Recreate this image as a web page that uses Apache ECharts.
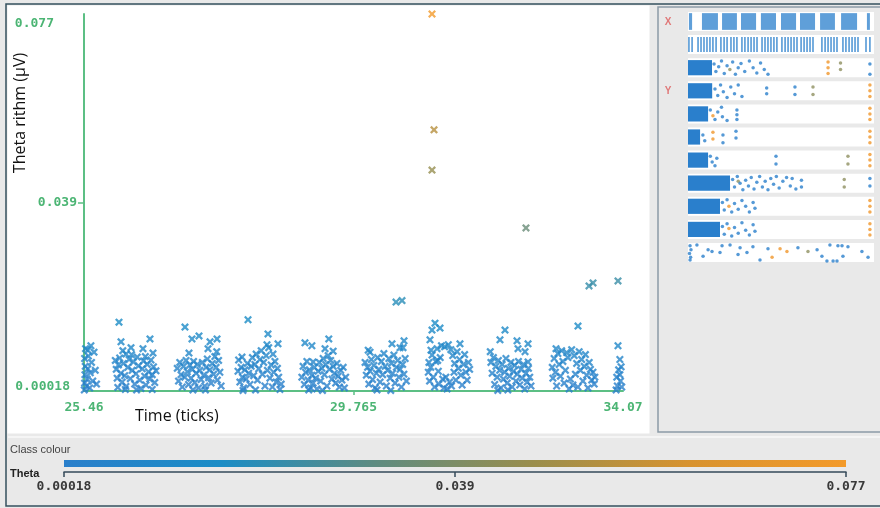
<!DOCTYPE html>
<html><head><meta charset="utf-8">
<script src="https://cdn.jsdelivr.net/npm/echarts@6/dist/echarts.min.js"></script>
<style>html,body{margin:0;padding:0;background:#e9e9e9}#c{width:880px;height:508px}</style>
</head><body><div id="c"></div>
<script>
// ---------- DATA ----------
var X_MIN = 25.46, X_MAX = 34.07;
var X_TICK_VALUES = [25.46, 29.765, 34.07];
var X_TICK_LABELS = ['25.46', '29.765', '34.07'];
var Y_MIN = 0.00018, Y_MAX = 0.077;
var Y_TICK_VALUES = [0.00018, 0.0386, 0.077];
var Y_TICK_LABELS = ['0.00018', '0.039', '0.077'];
var CLASS_TICK_VALUES = [0.00018, 0.0386, 0.077];
var CLASS_TICK_LABELS = ['0.00018', '0.039', '0.077'];
var COLOR_STOPS = ['#2a7fcb', '#1b8dc6', '#5f8c80', '#9a8e4c', '#d8932f', '#f39a2a'];

var CLUSTER_1 = [[25.465,0.0004],[25.47,0.0018],[25.475,0.0035],[25.48,0.0052],[25.47,0.0068],[25.485,0.0088],[25.50,0.0012],[25.51,0.0026],[25.52,0.0047],[25.53,0.0073],[25.55,0.0008],[25.56,0.0039],[25.58,0.0060],[25.60,0.0022],[25.62,0.0081],[25.64,0.0044],[25.66,0.0016],[25.52,0.0085],[25.57,0.0094]];
var CLUSTER_2 = [[26.019,0.0142],[26.051,0.0102],[26.514,0.0108],[26.402,0.0088],[26.562,0.0079],[26.211,0.0090],[26.131,0.0077],[25.96,0.0064],[25.975,0.0046],[25.99,0.0028],[26.01,0.0055],[26.03,0.0069],[26.05,0.0038],[26.07,0.0020],[26.09,0.0058],[26.11,0.0033],[26.13,0.0011],[26.16,0.0050],[26.18,0.0066],[26.20,0.0027],[26.23,0.0044],[26.25,0.0061],[26.27,0.0016],[26.29,0.0037],[26.31,0.0071],[26.33,0.0053],[26.35,0.0024],[26.37,0.0007],[26.39,0.0047],[26.41,0.0063],[26.43,0.0032],[26.45,0.0014],[26.47,0.0056],[26.49,0.0041],[26.51,0.0026],[26.53,0.0065],[26.55,0.0035],[26.57,0.0051],[26.59,0.0019],[26.61,0.0043],[26.08,0.0084],[26.22,0.0076],[26.30,0.0004],[26.12,0.0005],[26.55,0.0005],[26.44,0.0072],[26.00,0.0009]];
var CLUSTER_3 = [[27.073,0.0132],[27.185,0.0108],[27.297,0.0114],[27.473,0.0102],[27.585,0.0108],[27.441,0.0088],[27.137,0.0079],[26.95,0.0048],[26.97,0.0022],[26.99,0.0060],[27.01,0.0035],[27.03,0.0010],[27.05,0.0052],[27.07,0.0030],[27.09,0.0064],[27.11,0.0041],[27.13,0.0015],[27.15,0.0055],[27.17,0.0028],[27.19,0.0046],[27.21,0.0062],[27.23,0.0019],[27.25,0.0038],[27.27,0.0056],[27.29,0.0008],[27.31,0.0044],[27.33,0.0025],[27.35,0.0060],[27.37,0.0034],[27.39,0.0012],[27.41,0.0050],[27.43,0.0067],[27.45,0.0029],[27.47,0.0045],[27.49,0.0018],[27.51,0.0058],[27.53,0.0036],[27.55,0.0072],[27.57,0.0050],[27.59,0.0024],[27.61,0.0064],[27.63,0.0040],[27.65,0.0012],[27.20,0.0004],[27.40,0.0004],[27.58,0.0082]];
var CLUSTER_4 = [[28.080,0.0147],[28.399,0.0118],[28.559,0.0098],[28.383,0.0096],[27.984,0.0071],[28.479,0.0077],[27.92,0.0042],[27.93,0.0065],[27.95,0.0020],[27.97,0.0050],[27.99,0.0030],[28.01,0.0008],[28.03,0.0045],[28.05,0.0026],[28.07,0.0058],[28.09,0.0038],[28.11,0.0015],[28.13,0.0052],[28.15,0.0070],[28.17,0.0033],[28.19,0.0056],[28.21,0.0077],[28.23,0.0024],[28.25,0.0047],[28.27,0.0066],[28.29,0.0084],[28.31,0.0036],[28.33,0.0060],[28.35,0.0012],[28.37,0.0074],[28.39,0.0044],[28.41,0.0090],[28.43,0.0028],[28.45,0.0055],[28.47,0.0010],[28.49,0.0040],[28.51,0.0062],[28.53,0.0020],[28.55,0.0048],[28.57,0.0030],[28.59,0.0005],[28.61,0.0016],[28.20,0.0004],[28.00,0.0003]];
var CLUSTER_5 = [[28.99,0.0100],[29.10,0.0094],[29.37,0.0108],[29.31,0.0088],[29.44,0.0083],[29.12,0.0061],[28.94,0.0030],[28.96,0.0052],[28.98,0.0015],[29.00,0.0040],[29.02,0.0062],[29.04,0.0024],[29.06,0.0045],[29.08,0.0008],[29.10,0.0034],[29.12,0.0018],[29.14,0.0050],[29.16,0.0028],[29.18,0.0006],[29.20,0.0042],[29.22,0.0060],[29.24,0.0022],[29.26,0.0048],[29.28,0.0068],[29.30,0.0035],[29.32,0.0056],[29.34,0.0012],[29.36,0.0074],[29.38,0.0046],[29.40,0.0064],[29.42,0.0026],[29.44,0.0052],[29.46,0.0038],[29.48,0.0018],[29.50,0.0058],[29.52,0.0032],[29.54,0.0010],[29.56,0.0044],[29.58,0.0024],[29.60,0.0050],[29.62,0.0008],[29.64,0.0030],[29.27,0.0003],[29.05,0.0004]];
var CLUSTER_6 = [[30.444,0.0183],[30.54,0.0186],[30.38,0.0098],[30.572,0.0104],[30.029,0.0081],[30.508,0.0090],[30.556,0.0090],[29.95,0.0060],[29.97,0.0034],[29.99,0.0050],[30.01,0.0016],[30.03,0.0042],[30.05,0.0066],[30.07,0.0025],[30.09,0.0054],[30.11,0.0008],[30.13,0.0038],[30.15,0.0070],[30.17,0.0046],[30.19,0.0020],[30.21,0.0062],[30.23,0.0035],[30.25,0.0078],[30.27,0.0052],[30.29,0.0012],[30.31,0.0044],[30.33,0.0068],[30.35,0.0028],[30.37,0.0058],[30.39,0.0038],[30.41,0.0075],[30.43,0.0018],[30.45,0.0050],[30.47,0.0064],[30.49,0.0030],[30.51,0.0046],[30.53,0.0010],[30.55,0.0056],[30.57,0.0036],[30.59,0.0068],[30.61,0.0022],[30.14,0.0004],[30.36,0.0003],[30.00,0.0085]];
var CLUSTER_7 = [[31.019,0.0770],[31.051,0.0534],[31.019,0.0452],[31.067,0.0140],[31.147,0.0130],[31.019,0.0126],[30.987,0.0106],[31.003,0.0085],[31.466,0.0098],[30.96,0.0040],[30.97,0.0060],[30.98,0.0022],[31.00,0.0050],[31.02,0.0075],[31.04,0.0030],[31.06,0.0010],[31.08,0.0062],[31.10,0.0088],[31.12,0.0042],[31.13,0.0016],[31.15,0.0070],[31.17,0.0094],[31.19,0.0026],[31.21,0.0008],[31.22,0.0092],[31.24,0.0030],[31.26,0.0006],[31.28,0.0096],[31.30,0.0020],[31.32,0.0086],[31.33,0.0012],[31.35,0.0074],[31.37,0.0040],[31.38,0.0058],[31.40,0.0024],[31.42,0.0082],[31.44,0.0048],[31.46,0.0066],[31.48,0.0034],[31.50,0.0014],[31.52,0.0056],[31.54,0.0076],[31.56,0.0040],[31.58,0.0024],[31.60,0.0060],[31.62,0.0046],[31.11,0.0064]];
var CLUSTER_8 = [[32.52,0.0334],[32.185,0.0126],[32.105,0.0106],[32.377,0.0104],[32.553,0.0098],[32.393,0.0088],[32.505,0.0082],[32.553,0.0061],[31.95,0.0082],[31.96,0.0060],[31.98,0.0038],[32.00,0.0070],[32.02,0.0015],[32.04,0.0052],[32.06,0.0030],[32.08,0.0064],[32.10,0.0044],[32.12,0.0008],[32.14,0.0056],[32.16,0.0026],[32.18,0.0040],[32.20,0.0068],[32.22,0.0018],[32.24,0.0048],[32.26,0.0032],[32.28,0.0060],[32.30,0.0010],[32.32,0.0042],[32.34,0.0054],[32.36,0.0022],[32.38,0.0036],[32.40,0.0062],[32.42,0.0014],[32.44,0.0046],[32.46,0.0028],[32.48,0.0056],[32.50,0.0006],[32.52,0.0038],[32.54,0.0020],[32.56,0.0048],[32.58,0.0030],[32.60,0.0012],[32.23,0.0004],[32.07,0.0003]];
var CLUSTER_9 = [[33.527,0.0216],[33.591,0.0222],[33.351,0.0134],[32.94,0.0050],[32.95,0.0028],[32.97,0.0068],[32.99,0.0040],[33.01,0.0012],[33.03,0.0078],[33.05,0.0056],[33.07,0.0032],[33.09,0.0084],[33.11,0.0062],[33.13,0.0018],[33.15,0.0044],[33.17,0.0080],[33.19,0.0070],[33.21,0.0006],[33.23,0.0026],[33.25,0.0086],[33.27,0.0014],[33.29,0.0074],[33.31,0.0036],[33.33,0.0058],[33.35,0.0010],[33.37,0.0082],[33.39,0.0044],[33.41,0.0066],[33.43,0.0022],[33.45,0.0052],[33.47,0.0076],[33.49,0.0034],[33.51,0.0008],[33.53,0.0060],[33.55,0.0046],[33.57,0.0024],[33.59,0.0040],[33.61,0.0016],[33.62,0.0030],[33.00,0.0088]];
var CLUSTER_10 = [[33.99,0.0226],[33.99,0.0094],[34.04,0.0051],[34.02,0.0035],[33.98,0.0012],[34.03,0.0022],[33.96,0.0004],[34.02,0.0066],[33.97,0.0030],[34.05,0.0010],[34.00,0.0045]];

// attribute panel (values on a 0-100 scaled attribute range, jitter 0-1)
var STRIP1_BLOBS = [[0.5,2.2],[7.5,16.1],[18.3,26.3],[28.5,36.6],[39.2,47.3],[50,58.1],[60.2,68.3],[71,79],[82.3,90.9],[96.2,97.8]];
var STRIP2_LINES = [0.5,2.2,5.4,7,8.6,10.2,11.8,13.4,15.1,17.7,19.4,21,23.1,24.7,26.3,29,30.6,32.3,33.9,35.5,37.1,39.8,41.4,43,44.6,46.2,47.8,50.5,52.2,53.8,55.4,57,58.6,60.8,62.4,64,65.6,67.2,72,73.7,75.3,76.9,78.5,80.1,83.3,84.9,86.6,88.2,89.8,91.4,95.7,97.8];
var STRIP_BAR_END = [null, null, 12.9, 13, 10.8, 6.5, 10.8, 22.6, 17.2, 17.2, null];
var STRIP_DOTS = [
  [],
  [],
  [[14,0.7,0],[15,0.3,0],[16.5,0.55,0],[18,0.85,0],[19.5,0.2,0],[21,0.6,0],[22.5,0.4,2],[24,0.8,0],[25.5,0.15,0],[27,0.5,0],[28.5,0.72,0],[30.5,0.3,0],[33,0.85,0],[35,0.5,0],[37,0.22,0],[39,0.75,0],[41,0.4,0],[43,0.15,0],[75.3,0.8,1],[75.3,0.5,1],[75.3,0.2,1],[82,0.75,2],[82,0.4,2],[97.8,0.7,0],[97.8,0.15,0]],
  [[14.5,0.6,0],[16,0.25,0],[17.5,0.8,0],[19,0.45,0],[21,0.15,0],[23,0.7,0],[25,0.35,0],[27,0.8,0],[29,0.2,0],[42.3,0.65,0],[42.3,0.35,0],[57.5,0.7,0],[57.5,0.3,0],[67.2,0.7,2],[67.2,0.3,2],[97.8,0.8,1],[97.8,0.5,1],[97.8,0.2,1]],
  [[12,0.7,0],[13.4,0.4,1],[14.5,0.2,0],[16,0.6,0],[18,0.85,0],[18.5,0.35,0],[21,0.15,0],[26.3,0.7,0],[26.3,0.45,0],[26.3,0.2,0],[97.8,0.8,1],[97.8,0.5,1],[97.8,0.2,1]],
  [[8,0.6,0],[9,0.3,0],[13.4,0.75,1],[13.4,0.4,1],[18.8,0.6,0],[18.8,0.2,0],[25.8,0.8,0],[25.8,0.45,0],[97.8,0.8,1],[97.8,0.5,1],[97.8,0.2,1]],
  [[12,0.7,0],[13,0.4,0],[14.5,0.2,0],[15.5,0.6,0],[47.3,0.7,0],[47.3,0.3,0],[86,0.7,2],[86,0.3,2],[97.8,0.8,1],[97.8,0.5,1],[97.8,0.2,1]],
  [[24,0.7,0],[25,0.3,0],[26.5,0.85,0],[27,0.6,2],[28,0.5,0],[29.5,0.15,0],[31,0.65,0],[32.5,0.35,0],[34,0.8,0],[35.5,0.2,0],[37,0.55,0],[38.5,0.85,0],[40,0.3,0],[41.5,0.6,0],[43,0.15,0],[44.5,0.75,0],[46,0.45,0],[47.5,0.85,0],[49,0.25,0],[51,0.6,0],[53,0.8,0],[55,0.35,0],[56,0.75,0],[58,0.2,0],[61,0.65,0],[61,0.3,0],[84,0.7,2],[84,0.3,2],[97.8,0.75,0],[97.8,0.35,0]],
  [[18.5,0.7,0],[19.5,0.3,0],[21,0.85,0],[22,0.5,1],[23.5,0.2,0],[25,0.65,0],[27,0.35,0],[29,0.8,0],[31,0.5,0],[33,0.2,0],[35,0.7,0],[36,0.4,0],[97.8,0.8,1],[97.8,0.5,1],[97.8,0.2,1]],
  [[18.5,0.65,0],[19.5,0.25,0],[21,0.8,0],[22,0.55,1],[23.5,0.15,0],[25,0.6,0],[27,0.3,0],[29,0.85,0],[31,0.45,0],[33,0.2,0],[35,0.75,0],[36,0.4,0],[97.8,0.8,1],[97.8,0.5,1],[97.8,0.2,1]],
  [[1.1,0.85,0],[1.6,0.65,0],[0.8,0.45,0],[1.4,0.25,0],[1.1,0.1,0],[4.8,0.9,0],[8.1,0.3,0],[10.8,0.65,0],[12.9,0.55,0],[17.2,0.5,0],[18.3,0.85,0],[22.6,0.9,0],[26.9,0.4,0],[28,0.75,0],[31.7,0.5,0],[34.9,0.8,0],[38.7,0.1,0],[43,0.7,0],[45.2,0.25,1],[49.5,0.7,1],[53.2,0.55,1],[59.1,0.75,0],[64.5,0.55,2],[69.4,0.65,0],[72,0.3,0],[74.7,0.05,0],[76.3,0.9,0],[78,0.05,0],[80.1,0.05,0],[80.6,0.85,0],[82.8,0.85,0],[83.3,0.3,0],[86,0.8,0],[93.5,0.55,0],[96.8,0.25,0]]
];
var CLASS_COLORS = ['#2a80cc', '#f0962a', '#8f9060'];

// ---------- CHART ----------
var GREEN = '#5cbf84', GREEN_TXT = '#4cb574';
var MONO = 'DejaVu Sans Mono';
var X_PATH = 'path://M0,2 L2,0 L5,3 L8,0 L10,2 L7,5 L10,8 L8,10 L5,7 L2,10 L0,8 L3,5 Z';
var MAIN = [].concat(CLUSTER_1, CLUSTER_2, CLUSTER_3, CLUSTER_4, CLUSTER_5, CLUSTER_6, CLUSTER_7, CLUSTER_8, CLUSTER_9, CLUSTER_10);

function nearestIdx(arr, v){ var b=0; for (var i=1;i<arr.length;i++) if (Math.abs(arr[i]-v)<Math.abs(arr[b]-v)) b=i; return b; }

var grids = [
  {left:84, top:14, width:539, height:377},
  {left:64, top:471, width:782, height:1}
];
var xAxes = [
  {gridIndex:0, type:'value', min:X_MIN, max:X_MAX, z:1,
   axisLine:{lineStyle:{color:GREEN, width:2}},
   axisTick:{show:true, customValues:[X_TICK_VALUES[1]], length:4, lineStyle:{color:GREEN, width:1.5}},
   splitLine:{show:false},
   axisLabel:{customValues:X_TICK_VALUES, margin:10, color:GREEN_TXT, fontFamily:MONO, fontWeight:'bold', fontSize:13,
     formatter:function(v){ return X_TICK_LABELS[nearestIdx(X_TICK_VALUES, v)]; }}},
  {gridIndex:1, type:'value', min:Y_MIN, max:Y_MAX, z:1,
   axisLine:{lineStyle:{color:'#34495a', width:1.5}},
   axisTick:{show:true, customValues:CLASS_TICK_VALUES, length:5, lineStyle:{color:'#34495a', width:1.5}},
   splitLine:{show:false},
   axisLabel:{customValues:CLASS_TICK_VALUES, margin:8, color:'#3a3a3a', fontFamily:MONO, fontWeight:'bold', fontSize:13,
     formatter:function(v){ return CLASS_TICK_LABELS[nearestIdx(CLASS_TICK_VALUES, v)]; }}}
];
var yLabFont = {fontFamily:MONO, fontWeight:'bold', fontSize:13, color:GREEN_TXT};
var yAxes = [
  {gridIndex:0, type:'value', min:Y_MIN, max:Y_MAX, z:1,
   axisLine:{show:true, lineStyle:{color:GREEN, width:2}},
   axisTick:{show:true, customValues:[Y_TICK_VALUES[1]], length:6, lineStyle:{color:GREEN, width:1.5}},
   splitLine:{show:false},
   axisLabel:{customValues:Y_TICK_VALUES, align:'right', margin:7,
     formatter:function(v){ var i = nearestIdx(Y_TICK_VALUES, v); return '{s'+i+'|'+Y_TICK_LABELS[i]+'}'; },
     rich:{
       s0:Object.assign({padding:[0,7,8,0]}, yLabFont),
       s1:Object.assign({}, yLabFont),
       s2:Object.assign({padding:[20,23,0,0]}, yLabFont)
     }}},
  {gridIndex:1, type:'value', show:false, min:0, max:1}
];
var series = [
  {type:'scatter', xAxisIndex:0, yAxisIndex:0, data:MAIN, symbol:X_PATH, symbolSize:8, z:3,
   itemStyle:{opacity:0.8}, silent:true}
];

for (var i = 0; i < 11; i++) {
  grids.push({left:688, top:12 + i*23.1, width:186, height:19, show:true, backgroundColor:'#ffffff', borderWidth:0});
  xAxes.push({gridIndex:i+2, type:'value', min:0, max:100, show:false});
  yAxes.push({gridIndex:i+2, type:'value', min:0, max:1, show:false});
  var s = {type:'scatter', xAxisIndex:i+2, yAxisIndex:i+2, symbol:'circle', symbolSize:3.5, silent:true,
    data: STRIP_DOTS[i],
    itemStyle:{color:function(p){ return CLASS_COLORS[p.value[2]]; }}};
  var areas = [];
  if (i === 0) {
    STRIP1_BLOBS.forEach(function(b){ areas.push([{xAxis:b[0], yAxis:0.06},{xAxis:b[1], yAxis:0.94}]); });
  }
  if (STRIP_BAR_END[i] != null) areas.push([{xAxis:0, yAxis:0.1},{xAxis:STRIP_BAR_END[i], yAxis:0.9}]);
  if (areas.length) s.markArea = {silent:true, itemStyle:{color:'#2a7fcc', opacity: i===0 ? 0.75 : 1}, label:{show:false}, data:areas};
  series.push(s);
  if (i === 1) {
    series.push({type:'scatter', xAxisIndex:3, yAxisIndex:3, silent:true, symbol:'rect', symbolSize:[1.6,15],
      itemStyle:{color:'#2a80cc'}, data:STRIP2_LINES.map(function(x){ return [x, 0.5, 0]; })});
  }
}

var gradStops = COLOR_STOPS.map(function(c, k){ return {offset:k/(COLOR_STOPS.length-1), color:c}; });

var option = {
  backgroundColor:'#e9e9e9',
  animation:false,
  grid:grids, xAxis:xAxes, yAxis:yAxes, series:series,
  visualMap:{type:'continuous', show:false, seriesIndex:0, dimension:1, min:Y_MIN, max:Y_MAX, inRange:{color:COLOR_STOPS}},
  graphic:[
    {type:'rect', shape:{x:6, y:4, width:880, height:502}, style:{fill:'none', stroke:'#34505e', lineWidth:1.5}},
    {type:'rect', shape:{x:7.5, y:5.5, width:642, height:428}, style:{fill:'#ffffff'}},
    {type:'rect', shape:{x:658, y:7, width:230, height:425}, style:{fill:'none', stroke:'#8c9ba6', lineWidth:1.5}},
    {type:'line', shape:{x1:8, y1:437, x2:880, y2:437}, style:{stroke:'#f5f5f5', lineWidth:2}},
    {type:'rect', shape:{x:64, y:460, width:782, height:7}, style:{fill:new echarts.graphic.LinearGradient(0,0,1,0,gradStops)}},
    {type:'text', x:10, y:450, style:{text:'Class colour', font:'11px "Liberation Sans"', fill:'#444', textVerticalAlign:'middle'}},
    {type:'text', x:10, y:474, style:{text:'Theta', font:'bold 11px "Liberation Sans"', fill:'#222', textVerticalAlign:'middle'}},
    {type:'text', x:668, y:22, style:{text:'X', font:'bold 10px "Liberation Sans"', fill:'#e07878', textAlign:'center', textVerticalAlign:'middle'}},
    {type:'text', x:668, y:91, style:{text:'Y', font:'bold 10px "Liberation Sans"', fill:'#e07878', textAlign:'center', textVerticalAlign:'middle'}},
    {type:'text', x:20, y:113, rotation:Math.PI/2, style:{text:'Theta rithm (µV)', font:'16px "Open Sans"', fill:'#111', textAlign:'center', textVerticalAlign:'middle'}},
    {type:'text', x:135, y:416, style:{text:'Time (ticks)', font:'16px "Open Sans"', fill:'#111', textAlign:'left', textVerticalAlign:'middle'}}
  ]
};
var chart = echarts.init(document.getElementById('c'), null, {renderer:'canvas'});
chart.setOption(option);
</script></body></html>
